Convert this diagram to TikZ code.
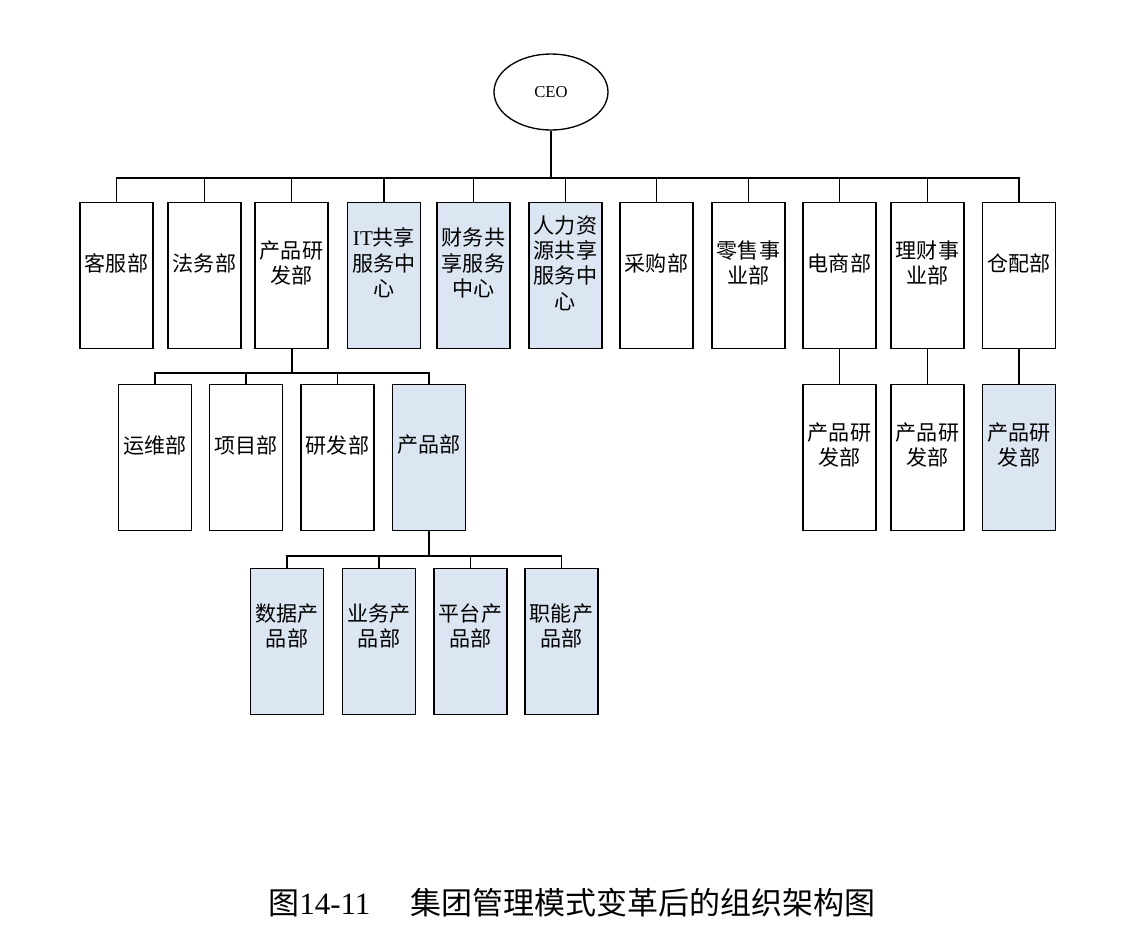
\documentclass[tikz,border=0pt]{standalone}
\usepackage{fontspec}
\setmainfont{Liberation Serif}
\newfontfamily\cjk{Noto Sans CJK SC}
\newcommand\lat[1]{{\rmfamily #1}}
\usetikzlibrary{shapes.geometric}
\definecolor{boxblue}{RGB}{220,230,242}
\begin{document}
\begin{tikzpicture}[x=0.75pt,y=-0.75pt,
  orgbox/.style={draw, line width=1.1pt, minimum width=54.75pt, minimum height=109.5pt, anchor=north, inner sep=0pt},
  bluebox/.style={orgbox, fill=boxblue},
  lbl/.style={font=\cjk\fontsize{15.8}{19}\selectfont, align=center, inner sep=0pt},
  conn/.style={line width=0.9pt},
  thickconn/.style={line width=1.5pt}]
\useasboundingbox (0,0) rectangle (1146,950);

% CEO
\node[draw, ellipse, line width=1pt, minimum width=85.5pt, minimum height=57pt, inner sep=0pt, font=\fontsize{12.5}{14}\selectfont] (ceo) at (551,92) {CEO};
\coordinate (bus) at (551,178);

% top level boxes
\node[orgbox]  (b1)  at (116.5,202) {};
\node[orgbox]  (b2)  at (204.5,202) {};
\node[orgbox]  (b3)  at (291.5,202) {};
\node[bluebox] (b4)  at (384,202) {};
\node[bluebox] (b5)  at (473.5,202) {};
\node[bluebox] (b6)  at (565.5,202) {};
\node[orgbox]  (b7)  at (656.5,202) {};
\node[orgbox]  (b8)  at (748.5,202) {};
\node[orgbox]  (b9)  at (839.5,202) {};
\node[orgbox]  (b10) at (927.5,202) {};
\node[orgbox]  (b11) at (1019,202) {};

\node[lbl] (t1)  at (116.5,263) {客服部};
\node[lbl] (t2)  at (204.5,263) {法务部};
\node[lbl] (t3)  at (291.5,263) {产品研\\发部};
\node[lbl] (t4)  at (384,263) {\lat{IT}共享\\服务中\\心};
\node[lbl] (t5)  at (473.5,263) {财务共\\享服务\\中心};
\node[lbl] (t6)  at (565.5,263) {人力资\\源共享\\服务中\\心};
\node[lbl] (t7)  at (656.5,263) {采购部};
\node[lbl] (t8)  at (748.5,263) {零售事\\业部};
\node[lbl] (t9)  at (839.5,263) {电商部};
\node[lbl] (t10) at (927.5,263) {理财事\\业部};
\node[lbl] (t11) at (1019,263) {仓配部};

% level 2 under 产品研发部
\node[orgbox]  (c1) at (155,384) {};
\node[orgbox]  (c2) at (246,384) {};
\node[orgbox]  (c3) at (337.5,384) {};
\node[bluebox] (c4) at (429,384) {};
\node[lbl] (u1) at (155,445) {运维部};
\node[lbl] (u2) at (246,445) {项目部};
\node[lbl] (u3) at (337.5,445) {研发部};
\node[lbl] (u4) at (429,445) {产品部};
\coordinate (bus2) at (291.5,373);

% level 2 on the right
\node[orgbox]  (d1) at (839.5,384) {};
\node[orgbox]  (d2) at (927.5,384) {};
\node[bluebox] (d3) at (1019,384) {};
\node[lbl] (v1) at (839.5,445) {产品研\\发部};
\node[lbl] (v2) at (927.5,445) {产品研\\发部};
\node[lbl] (v3) at (1019,445) {产品研\\发部};

% level 3 under 产品部
\node[bluebox] (e1) at (287,568) {};
\node[bluebox] (e2) at (379,568) {};
\node[bluebox] (e3) at (470.5,568) {};
\node[bluebox] (e4) at (561.5,568) {};
\node[lbl] (w1) at (287,626) {数据产\\品部};
\node[lbl] (w2) at (379,626) {业务产\\品部};
\node[lbl] (w3) at (470.5,626) {平台产\\品部};
\node[lbl] (w4) at (561.5,626) {职能产\\品部};
\coordinate (bus3) at (429,556);

% connectors
\draw[thickconn] (ceo.south) -- (bus);
\draw[conn] (b1.north) -- (b1.north |- bus) -- (b11.north |- bus) -- (b11.north);
\foreach \b in {b2,b3,b4,b5,b6,b7,b8,b9,b10}
  \draw[conn] (\b.north) -- (\b.north |- bus);

\draw[thickconn] (b3.south) -- (bus2);
\draw[conn] (c1.north) -- (c1.north |- bus2) -- (c4.north |- bus2) -- (c4.north);
\foreach \c in {c2,c3}
  \draw[conn] (\c.north) -- (\c.north |- bus2);

\draw[conn] (b9.south) -- (d1.north);
\draw[conn] (b10.south) -- (d2.north);
\draw[conn] (b11.south) -- (d3.north);

\draw[conn] (c4.south) -- (bus3);
\draw[conn] (e1.north) -- (e1.north |- bus3) -- (e4.north |- bus3) -- (e4.north);
\foreach \e in {e2,e3}
  \draw[conn] (\e.north) -- (\e.north |- bus3);

% caption
\node[font=\cjk\fontsize{23.25}{28}\selectfont, inner sep=0pt] (cap) at (572,903) {图\lat{14-11}\hspace{1.3em}集团管理模式变革后的组织架构图};
\end{tikzpicture}
\end{document}
